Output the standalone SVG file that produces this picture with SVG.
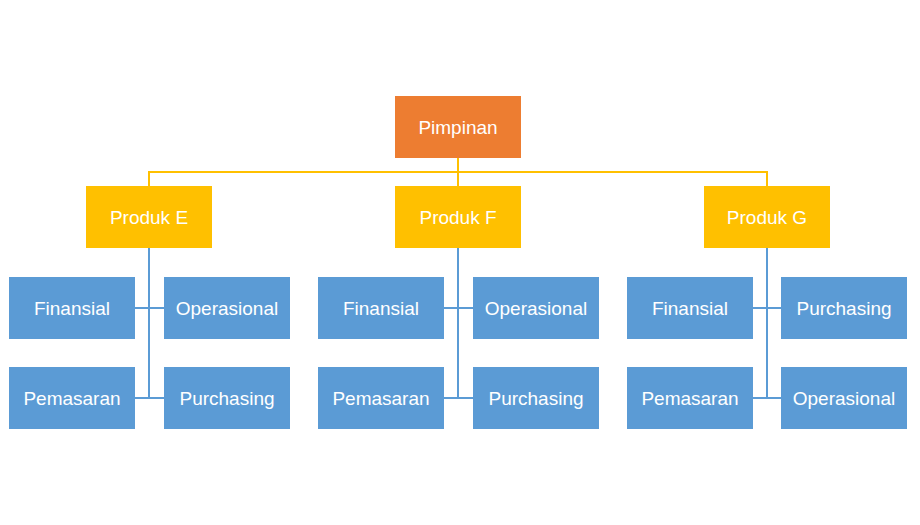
<svg xmlns="http://www.w3.org/2000/svg" width="920" height="525" viewBox="0 0 920 525">
<style>
.o{fill:#ED7D31}.y{fill:#FFC000}.b{fill:#5B9BD5}
text{font-family:"Liberation Sans",Arial,sans-serif;font-size:19px;fill:#fff;text-anchor:middle;dominant-baseline:central}
.cy{stroke:#FFC000;stroke-width:2;fill:none}.cb{stroke:#5B9BD5;stroke-width:2;fill:none}
</style>
<rect width="920" height="525" fill="#fff"/>
<g id="connectors">
<path class="cy" d="M458 158V186M149 186V172H767V186"/>
<path class="cb" d="M149 248V398M135 308H164M135 398H164"/>
<path class="cb" d="M458 248V398M444 308H473M444 398H473"/>
<path class="cb" d="M767 248V398M753 308H781M753 398H781"/>
</g>
<g id="pimpinan"><rect class="o" x="395" y="96" width="126" height="62"/><text x="458" y="127">Pimpinan</text></g>
<g id="produkE"><rect class="y" x="86" y="186" width="126" height="62"/><text x="149" y="217">Produk E</text></g>
<g id="produkF"><rect class="y" x="395" y="186" width="126" height="62"/><text x="458" y="217">Produk F</text></g>
<g id="produkG"><rect class="y" x="704" y="186" width="126" height="62"/><text x="767" y="217">Produk G</text></g>
<g id="e1"><rect class="b" x="9" y="277" width="126" height="62"/><text x="72" y="308">Finansial</text></g>
<g id="e2"><rect class="b" x="164" y="277" width="126" height="62"/><text x="227" y="308">Operasional</text></g>
<g id="e3"><rect class="b" x="9" y="367" width="126" height="62"/><text x="72" y="398">Pemasaran</text></g>
<g id="e4"><rect class="b" x="164" y="367" width="126" height="62"/><text x="227" y="398">Purchasing</text></g>
<g id="f1"><rect class="b" x="318" y="277" width="126" height="62"/><text x="381" y="308">Finansial</text></g>
<g id="f2"><rect class="b" x="473" y="277" width="126" height="62"/><text x="536" y="308">Operasional</text></g>
<g id="f3"><rect class="b" x="318" y="367" width="126" height="62"/><text x="381" y="398">Pemasaran</text></g>
<g id="f4"><rect class="b" x="473" y="367" width="126" height="62"/><text x="536" y="398">Purchasing</text></g>
<g id="g1"><rect class="b" x="627" y="277" width="126" height="62"/><text x="690" y="308">Finansial</text></g>
<g id="g2"><rect class="b" x="781" y="277" width="126" height="62"/><text x="844" y="308">Purchasing</text></g>
<g id="g3"><rect class="b" x="627" y="367" width="126" height="62"/><text x="690" y="398">Pemasaran</text></g>
<g id="g4"><rect class="b" x="781" y="367" width="126" height="62"/><text x="844" y="398">Operasional</text></g>
</svg>
